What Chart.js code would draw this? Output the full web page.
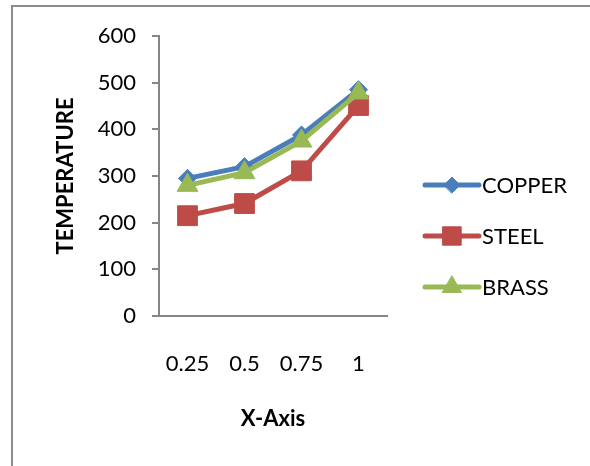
<!DOCTYPE html>
<html>
<head>
<meta charset="utf-8">
<script src="https://cdn.jsdelivr.net/npm/chart.js@4"></script>
<style>
  html, body { margin: 0; padding: 0; background: #fff; overflow: hidden; }
  #wrap { position: relative; width: 590px; height: 466px; }
  #frame {
    position: absolute; left: 11px; top: 5px; width: 620px; height: 500px;
    border: 2px solid #8c8c8c; box-sizing: border-box;
  }
  canvas { position: absolute; left: 0; top: 0; }
</style>
</head>
<body>
<div id="wrap">
  <div id="frame"></div>
  <canvas id="tempChart" width="590" height="466"></canvas>
</div>
<script>
const positions = ['0.25', '0.5', '0.75', '1'];
const copper = [295, 320, 388, 485];
const steel = [215, 241, 311, 451];
const brass = [280, 307, 375, 478];
const yTicks = [0, 100, 200, 300, 400, 500, 600];

const FONT = 'Lato, "Liberation Sans", sans-serif';
const AXIS_GREY = '#868686';

function series(label, data, color, style, radius, order) {
    return {
        label: label,
        data: data,
        borderColor: color,
        backgroundColor: color,
        borderWidth: 5,
        pointStyle: style,
        pointRadius: radius,
        pointHoverRadius: radius,
        pointBorderWidth: 1,
        pointBackgroundColor: color,
        pointBorderColor: color,
        tension: 0,
        order: order
    };
}

// legend on the right: line sample with the series marker in the middle
const sideLegend = {
    id: 'sideLegend',
    afterDraw(chart) {
        const ctx = chart.ctx;
        const rows = [185, 236, 287];
        const x0 = 425, x1 = 479;
        chart.data.datasets.forEach((ds, i) => {
            const y = rows[i];
            ctx.save();
            ctx.strokeStyle = ds.borderColor;
            ctx.lineWidth = 5;
            ctx.lineCap = 'round';
            ctx.beginPath();
            ctx.moveTo(x0, y);
            ctx.lineTo(x1, y);
            ctx.stroke();
            ctx.fillStyle = ds.backgroundColor;
            ctx.strokeStyle = ds.borderColor;
            ctx.lineWidth = 1;
            Chart.helpers.drawPoint(ctx, {
                pointStyle: ds.pointStyle,
                radius: ds.legendRadius,
                rotation: 0,
                borderWidth: 1
            }, (x0 + x1) / 2, y);
            ctx.fillStyle = '#000';
            ctx.font = '22px ' + FONT;
            ctx.textBaseline = 'middle';
            ctx.textAlign = 'left';
            ctx.fillText(ds.label, 482, y + 1);
            ctx.restore();
        });
    }
};

const datasets = [
    series('COPPER', copper, '#4A7EBB', 'rectRot', 9, 3),
    series('STEEL', steel, '#BE4B48', 'rect', 14, 2),
    series('BRASS', brass, '#98B954', 'triangle', 12, 1)
];
datasets[0].legendRadius = 8;
datasets[1].legendRadius = 13;
datasets[2].legendRadius = 11;

new Chart(document.getElementById('tempChart'), {
    type: 'line',
    data: { labels: positions, datasets: datasets },
    options: {
        responsive: false,
        animation: false,
        events: [],
        layout: { padding: { left: 53, top: 36, right: 203, bottom: 34 } },
        plugins: {
            legend: { display: false },
            tooltip: { enabled: false }
        },
        scales: {
            x: {
                offset: true,
                grid: { display: false },
                border: { display: true, color: AXIS_GREY, width: 2 },
                ticks: { color: '#000', font: { family: FONT, size: 22 }, padding: 27 },
                title: {
                    display: true, text: 'X-Axis', color: '#000',
                    font: { family: FONT, size: 22, weight: 'bold' },
                    padding: 0
                },
                afterFit(scale) { scale.height = 116; }
            },
            y: {
                min: 0,
                max: 600,
                afterBuildTicks(scale) { scale.ticks = yTicks.map(v => ({ value: v })); },
                grid: { drawOnChartArea: false, tickLength: 7, color: AXIS_GREY, lineWidth: 2 },
                border: { display: true, color: AXIS_GREY, width: 2 },
                ticks: { color: '#000', font: { family: FONT, size: 22 }, padding: 16 },
                title: {
                    display: true, text: 'TEMPERATURE', color: '#000',
                    font: { family: FONT, size: 22, weight: 'bold' },
                    padding: 0
                },
                afterFit(scale) { scale.width = 106; }
            }
        }
    },
    plugins: [sideLegend]
});
</script>
</body>
</html>
